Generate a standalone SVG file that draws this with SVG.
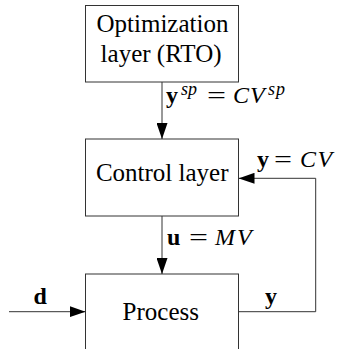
<svg xmlns="http://www.w3.org/2000/svg" width="339" height="349" viewBox="0 0 339 349">
<style>
.box{fill:#fff;stroke:#333;stroke-width:1}
.wire{fill:none;stroke:#333;stroke-width:1}
.t{font-family:'Liberation Serif','Times New Roman',serif;font-size:24px;fill:#000}
.b{font-weight:bold}
.i{font-style:italic}
.s{font-size:18px}
</style>
<defs>
<marker id="ah" viewBox="0 0 16 11" refX="16" refY="5.5" markerWidth="16" markerHeight="11" markerUnits="userSpaceOnUse" orient="auto">
<path d="M0,0 L16,5.5 L0,11 z" fill="#000"/>
</marker>
</defs>
<g id="optimization">
<rect class="box" x="85.5" y="5.5" width="153" height="76.5"/>
<text x="96.5" y="32" font-family="Liberation Serif" font-size="25">Optimization</text>
<text x="100.6" y="62" font-family="Liberation Serif" font-size="25">layer (RTO)</text>
</g>
<g id="control">
<rect class="box" x="85.5" y="139" width="153" height="77"/>
<text x="95.9" y="180.5" font-family="Liberation Serif" font-size="25">Control layer</text>
</g>
<g id="process">
<rect class="box" x="85.5" y="274" width="153" height="80"/>
<text x="122.6" y="320" font-family="Liberation Serif" font-size="25">Process</text>
</g>
<g id="connectors">
<path class="wire" d="M162,82 V139" marker-end="url(#ah)"/>
<path class="wire" d="M162,216 V274" marker-end="url(#ah)"/>
<path class="wire" d="M9,311.7 H85.5" marker-end="url(#ah)"/>
<path class="wire" d="M238.5,311.7 H315.7 V178.3 H238.5" marker-end="url(#ah)"/>
<g id="label-ysp">
<text class="t b" x="166" y="103">y</text>
<text class="t i s" x="181" y="95">sp</text>
<text class="t" x="207" y="103" textLength="19" lengthAdjust="spacingAndGlyphs">=</text>
<text class="t i" x="233" y="103" letter-spacing="1">CV</text>
<text class="t i s" x="268" y="95" letter-spacing="1">sp</text>
</g>
<g id="label-u">
<text class="t b" x="167" y="245">u</text>
<text class="t" x="189" y="245" textLength="19" lengthAdjust="spacingAndGlyphs">=</text>
<text class="t i" x="215" y="245" letter-spacing="2">MV</text>
</g>
<g id="label-ycv">
<text class="t b" x="257" y="167">y</text>
<text class="t" x="274" y="167" textLength="18" lengthAdjust="spacingAndGlyphs">=</text>
<text class="t i" x="300" y="167" letter-spacing="1.5">CV</text>
</g>
<text class="t b" x="33.5" y="304">d</text>
<text class="t b" x="265" y="304">y</text>
</g>
</svg>
